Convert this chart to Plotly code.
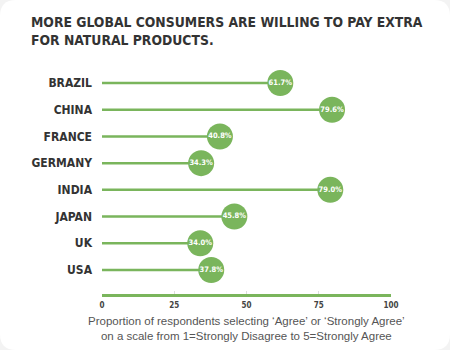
import plotly.graph_objects as go

countries = ["BRAZIL", "CHINA", "FRANCE", "GERMANY", "INDIA", "JAPAN", "UK", "USA"]
values = [61.7, 79.6, 40.8, 34.3, 79.0, 45.8, 34.0, 37.8]
value_labels = ["61.7%", "79.6%", "40.8%", "34.3%", "79.0%", "45.8%", "34.0%", "37.8%"]
x_ticks = [0, 25, 50, 75, 100]

W, H = 450, 350
L, R, T, B = 102, 59, 67, 56
PW, PH = W - L - R, H - T - B

def px_x(p):
    return (p - L) / PW

def px_y(p):
    return (H - B - p) / PH

GREEN = "#7ab55c"
COND = "DejaVu Sans Condensed, Liberation Sans Narrow, Arial Narrow, sans-serif"
n = len(countries)
ypos = list(range(n - 1, -1, -1))

lx, ly = [], []
for v, y in zip(values, ypos):
    lx += [0, v, None]
    ly += [y, y, None]

fig = go.Figure()
fig.add_trace(go.Scatter(x=lx, y=ly, mode="lines",
                         line=dict(color=GREEN, width=2.5),
                         hoverinfo="skip", showlegend=False, cliponaxis=False))
fig.add_trace(go.Scatter(x=values, y=ypos, mode="markers+text",
                         marker=dict(size=26, color=GREEN),
                         text=value_labels, textposition="middle center",
                         textfont=dict(color="white", size=7.5, family=COND, weight="bold"),
                         showlegend=False, cliponaxis=False))

# rounded white panel
r = 16
x0, x1, y0, y1 = px_x(0), px_x(W), px_y(0), px_y(H)
rx = r / PW
ry = r / PH
path = (f"M {x0+rx},{y0} L {x1-rx},{y0} Q {x1},{y0} {x1},{y0-ry} "
        f"L {x1},{y1+ry} Q {x1},{y1} {x1-rx},{y1} L {x0+rx},{y1} "
        f"Q {x0},{y1} {x0},{y1+ry} L {x0},{y0-ry} Q {x0},{y0} {x0+rx},{y0} Z")

fig.update_layout(
    width=W, height=H,
    margin=dict(l=L, r=R, t=T, b=B),
    paper_bgcolor="#f3f3f3",
    plot_bgcolor="rgba(0,0,0,0)",
    shapes=[dict(type="path", xref="paper", yref="paper", path=path,
                 fillcolor="white", line=dict(width=0), layer="below")],
    xaxis=dict(range=[0, 100], tickvals=x_ticks, ticktext=[str(t) for t in x_ticks],
               showgrid=False, zeroline=False,
               showline=True, linecolor=GREEN, linewidth=2.5,
               ticks="inside", ticklen=3, tickcolor="#dddddd", tickwidth=1,
               tickfont=dict(size=8, color="#444", family=COND, weight="bold"),
               ticklabelstandoff=2, fixedrange=True),
    yaxis=dict(range=[-0.9, 7.6], tickvals=ypos, ticktext=countries,
               showgrid=False, zeroline=False, showline=False, ticks="",
               tickfont=dict(size=12, color="#333", family=COND, weight="bold"),
               ticklabelstandoff=9, fixedrange=True),
    font=dict(family=COND),
    annotations=[
        dict(xref="paper", yref="paper", x=px_x(29), y=px_y(12),
             xanchor="left", yanchor="top", align="left", showarrow=False,
             text="<b>MORE GLOBAL CONSUMERS ARE WILLING TO PAY EXTRA<br>FOR NATURAL PRODUCTS.</b>",
             font=dict(size=13.8, color="#333", family=COND)),
        dict(xref="paper", yref="paper", x=0.5, y=px_y(313),
             xanchor="center", yanchor="top", align="center", showarrow=False,
             text="Proportion of respondents selecting ‘Agree’ or ‘Strongly Agree’<br>on a scale from 1=Strongly Disagree to 5=Strongly Agree",
             font=dict(size=11.5, color="#555", family="Liberation Sans, Arial")),
    ],
)

fig.write_html("out.html")
